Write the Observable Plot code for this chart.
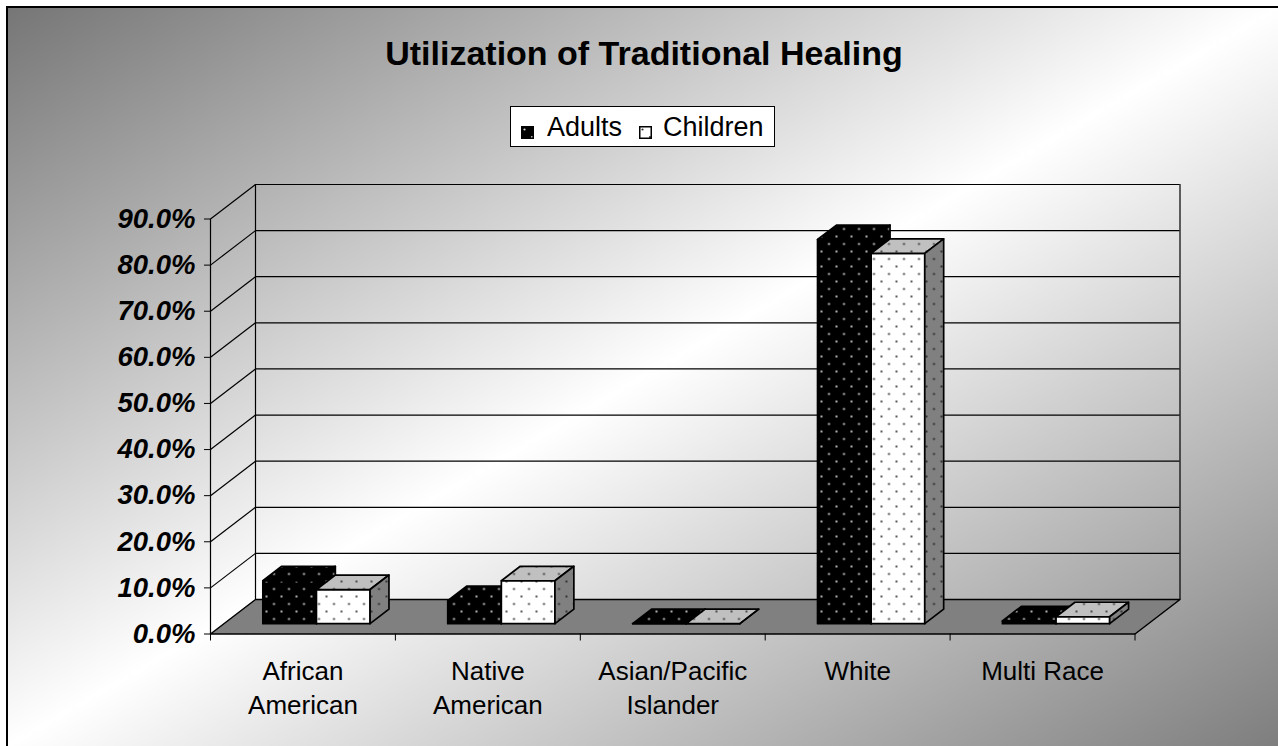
<!DOCTYPE html>
<html>
<head>
<meta charset="utf-8">
<script src="https://cdn.jsdelivr.net/npm/d3@7"></script>
<script src="https://cdn.jsdelivr.net/npm/@observablehq/plot@0.6"></script>
<style>
html, body { margin: 0; padding: 0; width: 1278px; height: 746px; overflow: hidden; background: #fff; }
#bg { position: absolute; left: 6px; top: 6px; width: 1272px; height: 740px; box-sizing: border-box;
      border-left: 2px solid #000; border-top: 2px solid #000;
      background: linear-gradient(to bottom right, #767676 0%, #ffffff 50%, #7e7e7e 100%); }
#chart { position: absolute; left: 0; top: 0; }
#title { position: absolute; left: 0; top: 36px; width: 1288px; text-align: center;
         font: bold 34px/34px "Liberation Sans", Arial, sans-serif; color: #000; margin: 0; }
#legend { position: absolute; left: 510px; top: 106px; width: 265px; height: 41px; box-sizing: border-box;
          border: 1.5px solid #000; background: #fff; }
.lgm { position: absolute; width: 13px; height: 13px; }
.lgt { position: absolute; font: 27px/27px "Liberation Sans", Arial, sans-serif; color: #000; white-space: nowrap; }
</style>
</head>
<body>
<svg width="0" height="0" style="position:absolute">
  <defs>
    <pattern id="patAdult" width="15" height="15" patternUnits="userSpaceOnUse">
      <rect width="15" height="15" fill="#000"/>
      <circle cx="3.5" cy="3.5" r="1.1" fill="#d8d8d8"/>
      <circle cx="11" cy="11" r="1.1" fill="#d8d8d8"/>
    </pattern>
    <pattern id="patChildFront" width="15" height="15" patternUnits="userSpaceOnUse">
      <rect width="15" height="15" fill="#fff"/>
      <circle cx="3.5" cy="3.5" r="1.1" fill="#333"/>
      <circle cx="11" cy="11" r="1.1" fill="#333"/>
    </pattern>
    <pattern id="patChildTop" width="15" height="15" patternUnits="userSpaceOnUse">
      <rect width="15" height="15" fill="#c0c0c0"/>
      <circle cx="3.5" cy="3.5" r="1.1" fill="#333"/>
      <circle cx="11" cy="11" r="1.1" fill="#333"/>
    </pattern>
    <pattern id="patChildSide" width="15" height="15" patternUnits="userSpaceOnUse">
      <rect width="15" height="15" fill="#808080"/>
      <circle cx="3.5" cy="3.5" r="1.1" fill="#222"/>
      <circle cx="11" cy="11" r="1.1" fill="#222"/>
    </pattern>
  </defs>
</svg>
<div id="bg"></div>
<div id="chart"></div>
<div id="title">Utilization of Traditional Healing</div>
<div id="legend"></div>
<script>
// ---- data ----
const categories = ["African American", "Native American", "Asian/Pacific Islander", "White", "Multi Race"];
const categoryLabels = ["African\nAmerican", "Native\nAmerican", "Asian/Pacific\nIslander", "White", "Multi Race"];
const seriesNames = ["Adults", "Children"];
const adults = [9.3, 5.0, 0.0, 83.3, 0.6];
const children = [7.4, 9.3, 0.0, 80.3, 1.5];
const yTicks = [0, 10, 20, 30, 40, 50, 60, 70, 80, 90];

// ---- 3D projection constants (in data units) ----
const N = categories.length;
const yMax = 90;
const DX = 45 / 184.9;      // full depth, in category units
const DY = 34.5 / 4.611;    // full depth, in percent units
const TF = 0.30, TB = 0.72; // bar front / back depth fraction
const GAP = 0.21, BW = 0.29;

const P = (x, v, t) => ({x: x + t * DX, y: v + t * DY});

const faces = [];
categories.forEach((c, i) => {
  [adults, children].forEach((arr, s) => {
    const v = arr[i], x0 = i + GAP + s * BW, x1 = x0 + BW;
    const add = (face, pts) => pts.forEach((p, k) => faces.push({id: `${i}-${s}-${face}`, series: seriesNames[s], face, k, ...p}));
    add("front", [P(x0, 0, TF), P(x1, 0, TF), P(x1, v, TF), P(x0, v, TF)]);
    add("top",   [P(x0, v, TF), P(x1, v, TF), P(x1, v, TB), P(x0, v, TB)]);
    add("side",  [P(x1, 0, TF), P(x1, 0, TB), P(x1, v, TB), P(x1, v, TF)]);
  });
});
const floor = [P(0, 0, 0), P(N, 0, 0), P(N, 0, 1), P(0, 0, 1)];
const gridVals = yTicks.filter(d => d > 0);

const faceStyle = {x: "x", y: "y", z: "id", stroke: "#000", strokeWidth: 1.7, strokeLinejoin: "round", curve: "linear-closed"};

const chart = Plot.plot({
  width: 1278,
  height: 746,
  marginLeft: 210,
  marginRight: 143.5,
  marginTop: 218.5,
  marginBottom: 112.5,
  style: {background: "transparent", fontFamily: "'Liberation Sans', Arial, sans-serif", overflow: "visible", color: "#000"},
  x: {domain: [0, N]},
  y: {domain: [0, yMax]},
  marks: [
    Plot.line(floor, {x: "x", y: "y", fill: "#808080", stroke: "#000", strokeWidth: 1.5, curve: "linear-closed"}),
    Plot.ruleY(gridVals, {y: d => d + DY, x1: DX, x2: N + DX, stroke: "#000", strokeWidth: 1.2}),
    Plot.ruleX([DX, N + DX], {x: d => d, y1: DY, y2: yMax + DY, stroke: "#000", strokeWidth: 1.2}),
    Plot.link(gridVals, {x1: 0, y1: d => d, x2: DX, y2: d => d + DY, stroke: "#000", strokeWidth: 1.2}),
    Plot.ruleX([0], {y1: 0, y2: yMax, stroke: "#000", strokeWidth: 1.2}),
    Plot.axisY({ticks: yTicks, tickSize: 6, tickPadding: 9, tickFormat: d => d.toFixed(1) + "%",
                fontSize: 27.5, fontWeight: "bold", fontStyle: "italic", label: null}),
    Plot.axisX({ticks: d3.range(N + 1), tickSize: 7, tickFormat: () => "", label: null}),
    Plot.text(categoryLabels, {x: (d, i) => i + 0.5, y: 0, text: d => d, dy: 21, lineAnchor: "top",
                               lineHeight: 1.33, fontSize: 26, textAnchor: "middle", fill: "#000"}),
    Plot.line(faces.filter(d => d.series === "Adults"), {...faceStyle, fill: "url(#patAdult)"}),
    Plot.line(faces.filter(d => d.series === "Children" && d.face === "front"), {...faceStyle, fill: "url(#patChildFront)"}),
    Plot.line(faces.filter(d => d.series === "Children" && d.face === "top"), {...faceStyle, fill: "url(#patChildTop)"}),
    Plot.line(faces.filter(d => d.series === "Children" && d.face === "side"), {...faceStyle, fill: "url(#patChildSide)"})
  ]
});
document.getElementById("chart").appendChild(chart);

// ---- legend ----
const legendItems = [
  {name: seriesNames[0], fill: "url(#patAdult)", mx: 521, tx: 547},
  {name: seriesNames[1], fill: "url(#patChildFront)", mx: 639, tx: 663}
];
legendItems.forEach(it => {
  const m = document.createElement("div");
  m.className = "lgm";
  m.style.left = it.mx + "px";
  m.style.top = "125px";
  m.innerHTML = `<svg width="13" height="13"><rect x="0.75" y="0.75" width="11.5" height="11.5" fill="${it.fill}" stroke="#000" stroke-width="1.5"/></svg>`;
  document.body.appendChild(m);
  const t = document.createElement("div");
  t.className = "lgt";
  t.style.left = it.tx + "px";
  t.style.top = "114px";
  t.textContent = it.name;
  document.body.appendChild(t);
});
</script>
</body>
</html>
